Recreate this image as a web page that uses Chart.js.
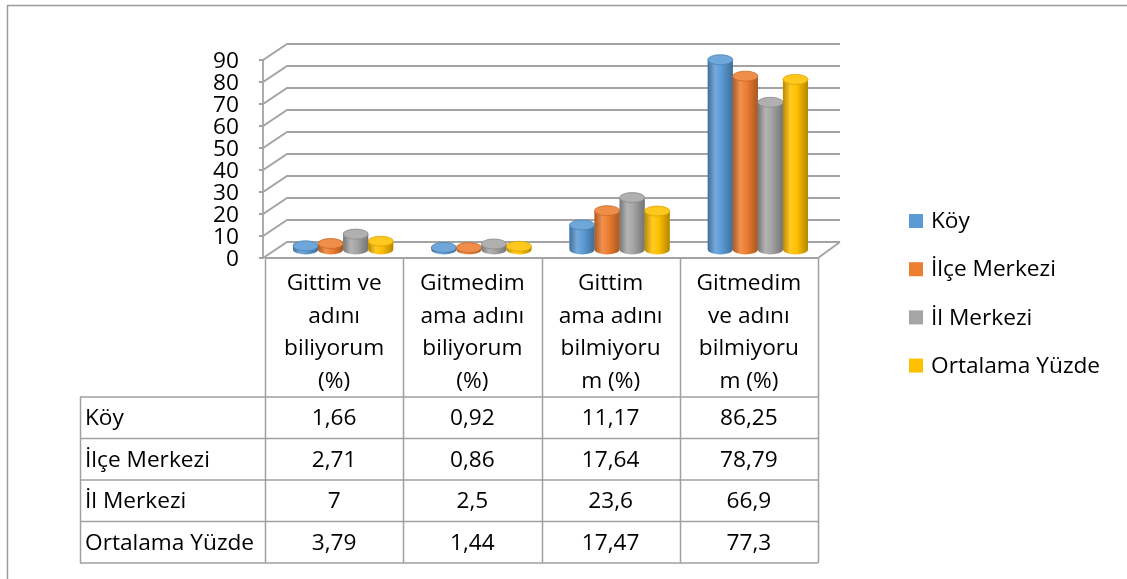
<!DOCTYPE html>
<html>
<head>
<meta charset="utf-8">
<script src="https://cdn.jsdelivr.net/npm/chart.js@4.4.1/dist/chart.umd.min.js"></script>
<style>
html,body{margin:0;padding:0;background:#fff;}
#wrap{position:relative;width:1127px;height:579px;}
canvas{display:block;}
</style>
</head>
<body>
<div id="wrap"><canvas id="c" width="1127" height="579"></canvas></div>
<script>
// ---- data ----
const categoryLines = [
  ["Gittim ve", "adını", "biliyorum", "(%)"],
  ["Gitmedim", "ama adını", "biliyorum", "(%)"],
  ["Gittim", "ama adını", "bilmiyoru", "m (%)"],
  ["Gitmedim", "ve adını", "bilmiyoru", "m (%)"]
];
const seriesNames = ["Köy", "İlçe Merkezi", "İl Merkezi", "Ortalama Yüzde"];
const koy = [1.66, 0.92, 11.17, 86.25];
const ilceMerkezi = [2.71, 0.86, 17.64, 78.79];
const ilMerkezi = [7, 2.5, 23.6, 66.9];
const ortalamaYuzde = [3.79, 1.44, 17.47, 77.3];
const yTicks = [0, 10, 20, 30, 40, 50, 60, 70, 80, 90];
const seriesColors = ["#5B9BD5", "#ED7D31", "#A5A5A5", "#FFC000"];

// ---- style constants ----
const FONT = '22px "Open Sans"';
const SX = 1.03;
const FRONT = {dx: -9, dy: 8.5};
const BACK = {dx: 13, dy: -7.5};
const GRID = '#a3a3a3';
const TABLE_LINE = '#a0a0a0';

function mix(hex, amt) {
  const n = parseInt(hex.slice(1), 16);
  let r = (n >> 16) & 255, g = (n >> 8) & 255, b = n & 255;
  const t = amt > 0 ? 255 : 0, a = Math.abs(amt);
  r = Math.round(r + (t - r) * a); g = Math.round(g + (t - g) * a); b = Math.round(b + (t - b) * a);
  return `rgb(${r},${g},${b})`;
}
function txt(ctx, s, x, y, align) {
  ctx.save();
  ctx.font = FONT;
  ctx.fillStyle = '#000';
  ctx.textBaseline = 'middle';
  ctx.translate(x, y);
  ctx.scale(SX, 1);
  ctx.textAlign = align;
  ctx.fillText(s, 0, 0);
  ctx.restore();
}
function fmt(v) { return String(v).replace('.', ','); }

function cylinder(ctx, x, top, base, w, color) {
  const rx = w / 2, ry = 5;
  const l = x - rx, r = x + rx;
  const g = ctx.createLinearGradient(l, 0, r, 0);
  g.addColorStop(0, mix(color, -0.28));
  g.addColorStop(0.3, mix(color, 0.15));
  g.addColorStop(0.55, color);
  g.addColorStop(1, mix(color, -0.3));
  ctx.save();
  ctx.fillStyle = g;
  ctx.beginPath();
  ctx.moveTo(l, top);
  ctx.lineTo(l, base);
  ctx.ellipse(x, base, rx, ry, 0, Math.PI, 0, true);
  ctx.lineTo(r, top);
  ctx.closePath();
  ctx.fill();
  ctx.beginPath();
  ctx.ellipse(x, top, rx, ry, 0, 0, Math.PI * 2);
  ctx.fillStyle = mix(color, 0.12);
  ctx.fill();
  ctx.lineWidth = 0.8;
  ctx.strokeStyle = mix(color, -0.15);
  ctx.stroke();
  ctx.restore();
}

const frame3d = {
  id: 'frame3d',
  beforeDatasetsDraw(chart) {
    const ctx = chart.ctx, ca = chart.chartArea, y = chart.scales.y;
    ctx.save();
    // outer frame (top & left)
    ctx.strokeStyle = '#9a9a9a'; ctx.lineWidth = 1.5;
    ctx.beginPath(); ctx.moveTo(7, 5.5); ctx.lineTo(1127, 5.5); ctx.moveTo(7.5, 5); ctx.lineTo(7.5, 579); ctx.stroke();

    const fl = ca.left + FRONT.dx, fr = ca.right + FRONT.dx;
    const bl = ca.left + BACK.dx, br = ca.right + BACK.dx;
    const axisX = fl - 2;
    ctx.strokeStyle = GRID; ctx.lineWidth = 1.8;
    yTicks.forEach(v => {
      const p = y.getPixelForValue(v);
      ctx.beginPath();
      ctx.moveTo(axisX - 4, p + FRONT.dy);
      ctx.lineTo(axisX, p + FRONT.dy);
      ctx.lineTo(bl, p + BACK.dy);
      ctx.lineTo(br, p + BACK.dy);
      ctx.stroke();
    });
    // vertical axis
    ctx.beginPath();
    ctx.moveTo(axisX, y.getPixelForValue(yTicks[yTicks.length - 1]) + FRONT.dy);
    ctx.lineTo(axisX, y.getPixelForValue(0) + FRONT.dy);
    ctx.stroke();
    // floor front edge & right edge
    const p0 = y.getPixelForValue(0);
    ctx.beginPath();
    ctx.moveTo(fl, p0 + FRONT.dy);
    ctx.lineTo(fr, p0 + FRONT.dy);
    ctx.lineTo(br, p0 + BACK.dy);
    ctx.stroke();
    // y labels
    yTicks.forEach(v => txt(ctx, String(v), axisX - 24, y.getPixelForValue(v) + FRONT.dy + 1.5, 'right'));
    ctx.restore();
  },
  afterDatasetsDraw(chart) {
    const ctx = chart.ctx;
    const n = chart.data.labels.length;
    for (let i = 0; i < n; i++) {
      chart.data.datasets.forEach((ds, d) => {
        const el = chart.getDatasetMeta(d).data[i];
        cylinder(ctx, el.x, el.y, el.base, el.width, seriesColors[d]);
      });
    }
  },
  afterDraw(chart) {
    const ctx = chart.ctx, ca = chart.chartArea, x = chart.scales.x, y = chart.scales.y;
    const n = chart.data.labels.length;
    const fl = ca.left + FRONT.dx;
    const colW = (ca.right - ca.left) / n;
    const floorY = y.getPixelForValue(0) + FRONT.dy;
    const tableLeft = 80;
    const rowTops = [397, 438.5, 480, 521.5, 563];
    ctx.save();
    ctx.strokeStyle = TABLE_LINE; ctx.lineWidth = 1.5;
    ctx.beginPath();
    for (let i = 0; i <= n; i++) {
      const cx = Math.round(fl + i * colW) + 0.5;
      ctx.moveTo(cx, floorY); ctx.lineTo(cx, rowTops[rowTops.length - 1]);
    }
    rowTops.forEach(ry => { ctx.moveTo(tableLeft, ry); ctx.lineTo(fl + n * colW, ry); });
    ctx.moveTo(tableLeft + 0.5, rowTops[0]); ctx.lineTo(tableLeft + 0.5, rowTops[rowTops.length - 1]);
    ctx.stroke();
    ctx.restore();
    // header labels
    chart.data.labels.forEach((lines, i) => {
      const cx = x.getPixelForValue(i) + FRONT.dx;
      lines.forEach((s, k) => txt(ctx, s, cx, 284 + k * 32.6, 'center'));
    });
    // rows
    chart.data.datasets.forEach((ds, d) => {
      const cy = (rowTops[d] + rowTops[d + 1]) / 2 + 1;
      txt(ctx, ds.label, 85, cy, 'left');
      ds.data.forEach((v, i) => txt(ctx, fmt(v), x.getPixelForValue(i) + FRONT.dx, cy, 'center'));
    });
    // legend
    chart.data.datasets.forEach((ds, d) => {
      const cy = 221 + d * 48.2;
      ctx.fillStyle = seriesColors[d];
      ctx.fillRect(909, cy - 7, 14, 14);
      txt(ctx, ds.label, 931, cy + 1, 'left');
    });
  }
};

const seriesData = [koy, ilceMerkezi, ilMerkezi, ortalamaYuzde];
new Chart(document.getElementById('c'), {
  type: 'bar',
  data: {
    labels: categoryLines,
    datasets: seriesNames.map((name, d) => ({
      label: name,
      data: seriesData[d],
      backgroundColor: seriesColors[d],
      borderWidth: 0,
      barPercentage: 1.0,
      categoryPercentage: 0.725
    }))
  },
  options: {
    responsive: false,
    animation: false,
    devicePixelRatio: 1,
    layout: {padding: {left: 274, right: 300, top: 51.5, bottom: 329.5}},
    plugins: {legend: {display: false}, tooltip: {enabled: false}},
    scales: {
      x: {display: false},
      y: {display: false, min: 0, max: 90}
    }
  },
  plugins: [frame3d]
});
</script>
</body>
</html>
